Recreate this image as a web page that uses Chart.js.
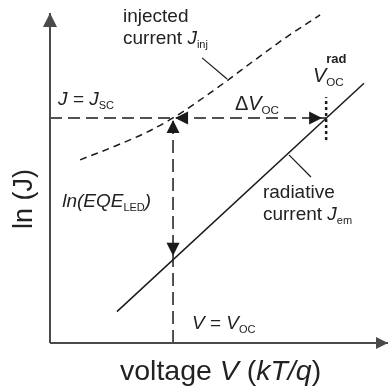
<!DOCTYPE html>
<html>
<head>
<meta charset="utf-8">
<script src="https://cdn.jsdelivr.net/npm/chart.js@4"></script>
<style>
  html, body { margin: 0; padding: 0; background: #fff; }
  canvas { display: block; }
</style>
</head>
<body>
<canvas id="jv" width="388" height="390"></canvas>
<script>
// Values (voltage in kT/q, ln J in arbitrary units)

const voltageEm = [1.98, 9.29];             // radiative current J_em (straight line)
const lnJem = [0.95, 7.87];

const voltageInj = [0.89, 1.86, 2.87, 3.64, 4.35, 5.24, 6.12, 7.01, 7.99];   // injected current J_inj
const lnJinj = [5.55, 5.94, 6.39, 6.82, 7.30, 7.95, 8.62, 9.28, 9.94];

const Jsc = 6.82;
const Voc = 3.64;
const VocRad = 8.17;
const vocRadTick = [6.15, 7.45];    // extent of dotted V_oc^rad marker

const axisMax = [10, 10];           // voltage, ln J

// leader lines from labels to curves
const injLeader = [[4.50, 8.64], [5.24, 8.00]];
const emLeader = [[7.07, 5.70], [7.72, 5.03]];

const ink = '#1a1a1a';
const axisColor = '#4a4a4a';
const FONT = '"Liberation Sans", Arial, Helvetica, sans-serif';

function pts(xs, ys) {
  return xs.map((v, i) => ({ x: v, y: ys[i] }));
}

function interp(v, xs, ys) {
  const t = (v - xs[0]) / (xs[xs.length - 1] - xs[0]);
  return ys[0] + t * (ys[ys.length - 1] - ys[0]);
}

function line(data, opts) {
  return Object.assign({
    data: data,
    showLine: true,
    pointRadius: 0,
    borderColor: ink,
    borderWidth: 1.5,
    fill: false,
    clip: false
  }, opts);
}

// text labels, anchored in data units (left edge, baseline)
const labels = [
  { v: 2.16, j: 9.73, size: 19, parts: [{ t: 'injected' }] },
  { v: 2.16, j: 9.06, size: 19, parts: [{ t: 'current ' }, { t: 'J', i: 1 }, { t: 'inj', sub: 1 }] },
  { v: 0.24, j: 7.21, size: 19, parts: [{ t: 'J', i: 1 }, { t: ' = ' }, { t: 'J', i: 1 }, { t: 'SC', sub: 1 }] },
  { v: 5.47, j: 7.06, size: 20, parts: [{ t: '\u0394' }, { t: 'V', i: 1 }, { t: 'OC', sub: 1 }] },
  { v: 7.78, j: 7.91, size: 20, parts: [{ t: 'V', i: 1 }, { t: 'rad', sup: 1, stay: 1 }, { t: 'OC', sub: 1 }] },
  { v: 0.36, j: 4.12, size: 19, parts: [{ t: 'ln(EQE', i: 1 }, { t: 'LED', sub: 1 }, { t: ')', i: 1 }] },
  { v: 6.30, j: 4.39, size: 19, parts: [{ t: 'radiative' }] },
  { v: 6.30, j: 3.73, size: 19, parts: [{ t: 'current ' }, { t: 'J', i: 1 }, { t: 'em', sub: 1 }] },
  { v: 4.20, j: 0.42, size: 19, parts: [{ t: 'V', i: 1 }, { t: ' = ' }, { t: 'V', i: 1 }, { t: 'OC', sub: 1 }] },
  { v: 2.07, j: -1.12, size: 28.5, parts: [{ t: 'voltage ' }, { t: 'V', i: 1 }, { t: ' (' }, { t: 'kT/q', i: 1 }, { t: ')' }] },
  { v: -0.83, j: 4.36, size: 27, rot: 1, parts: [{ t: 'ln (J)' }] }
];

function setFont(ctx, p, size) {
  let fs = size;
  if (p.sub) fs = size * 0.58;
  if (p.sup) fs = size * 0.65;
  ctx.font = (p.i ? 'italic ' : '') + (p.sup ? 'bold ' : '') + fs.toFixed(1) + 'px ' + FONT;
}

function richWidth(ctx, parts, size) {
  let w = 0;
  parts.forEach(p => {
    setFont(ctx, p, size);
    if (!p.stay) w += ctx.measureText(p.t).width;
  });
  return w;
}

function drawRich(ctx, x, y, parts, size) {
  parts.forEach(p => {
    setFont(ctx, p, size);
    let dy = 0;
    if (p.sub) dy = size * 0.2;
    if (p.sup) dy = -size * 0.95;
    ctx.fillText(p.t, x, y + dy);
    if (!p.stay) x += ctx.measureText(p.t).width;
  });
}

function arrow(ctx, x, y, dir, len, wid, color) {
  const d = { up: [0, -1], down: [0, 1], left: [-1, 0], right: [1, 0] }[dir];
  const bx = x - d[0] * len, by = y - d[1] * len;
  const nx = -d[1] * wid / 2, ny = d[0] * wid / 2;
  ctx.beginPath();
  ctx.moveTo(x, y);
  ctx.lineTo(bx + nx, by + ny);
  ctx.lineTo(bx - nx, by - ny);
  ctx.closePath();
  ctx.fillStyle = color;
  ctx.fill();
}

const annot = {
  id: 'annot',
  afterDatasetsDraw(chart) {
    const ctx = chart.ctx;
    const sx = chart.scales.x, sy = chart.scales.y;
    const px = v => sx.getPixelForValue(v);
    const py = v => sy.getPixelForValue(v);
    ctx.save();

    // axis arrowheads
    arrow(ctx, px(axisMax[0]), py(0), 'right', 12, 12, axisColor);
    arrow(ctx, px(0), py(axisMax[1]), 'up', 14, 14, axisColor);

    // double arrows for ln(EQE) and delta Voc
    const emAtVoc = interp(Voc, voltageEm, lnJem);
    arrow(ctx, px(Voc), py(Jsc) + 2, 'up', 13, 13, ink);
    arrow(ctx, px(Voc), py(emAtVoc) - 4, 'down', 13, 13, ink);
    arrow(ctx, px(Voc) + 2, py(Jsc), 'left', 13, 13, ink);
    arrow(ctx, px(VocRad) - 4, py(Jsc), 'right', 13, 13, ink);

    ctx.fillStyle = '#222';
    ctx.textBaseline = 'alphabetic';
    labels.forEach(l => {
      if (l.rot) {
        const w = richWidth(ctx, l.parts, l.size);
        ctx.save();
        ctx.translate(px(l.v), py(l.j));
        ctx.rotate(-Math.PI / 2);
        drawRich(ctx, -w / 2, l.size * 0.36, l.parts, l.size);
        ctx.restore();
      } else {
        drawRich(ctx, px(l.v), py(l.j), l.parts, l.size);
      }
    });
    ctx.restore();
  }
};

new Chart(document.getElementById('jv'), {
  type: 'scatter',
  data: {
    datasets: [
      line([{ x: 0, y: 0 }, { x: axisMax[0], y: 0 }], { borderColor: axisColor, borderWidth: 2 }),
      line([{ x: 0, y: 0 }, { x: 0, y: axisMax[1] }], { borderColor: axisColor, borderWidth: 2 }),
      line([{ x: 0, y: Jsc }, { x: VocRad, y: Jsc }], { borderDash: [12, 6], borderWidth: 1.5 }),
      line([{ x: Voc, y: 0 }, { x: Voc, y: Jsc }], { borderDash: [13, 6], borderWidth: 1.5 }),
      line(pts(voltageInj, lnJinj), { borderDash: [7, 5], borderWidth: 1.5, cubicInterpolationMode: 'monotone' }),
      line(pts(voltageEm, lnJem), { borderWidth: 1.5 }),
      line([{ x: VocRad, y: vocRadTick[0] }, { x: VocRad, y: vocRadTick[1] }], { borderDash: [3, 3], borderWidth: 2.5 }),
      line(injLeader.map(p => ({ x: p[0], y: p[1] })), { borderWidth: 1.2 }),
      line(emLeader.map(p => ({ x: p[0], y: p[1] })), { borderWidth: 1.2 })
    ]
  },
  options: {
    responsive: false,
    animation: false,
    layout: { padding: { left: 50, right: 0, top: 13, bottom: 47 } },
    scales: {
      x: { type: 'linear', min: 0, max: axisMax[0], display: false },
      y: { type: 'linear', min: 0, max: axisMax[1], display: false }
    },
    plugins: {
      legend: { display: false },
      tooltip: { enabled: false }
    }
  },
  plugins: [annot]
});
</script>
</body>
</html>
